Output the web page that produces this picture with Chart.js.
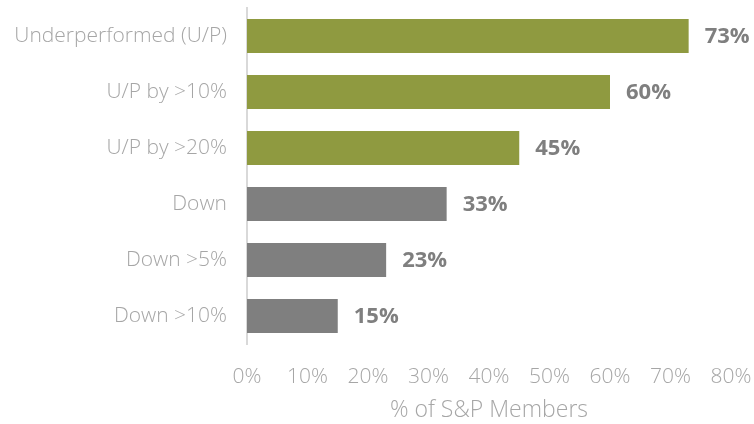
<!DOCTYPE html>
<html>
<head>
<meta charset="utf-8">
<script src="https://cdn.jsdelivr.net/npm/chart.js@4"></script>
<style>
  html, body { margin: 0; padding: 0; background: #fff; }
  #wrap { width: 754px; height: 424px; }
</style>
</head>
<body>
<div id="wrap"><canvas id="chart" width="754" height="424"></canvas></div>
<script>
// data
var categories = ['Underperformed (U/P)', 'U/P by >10%', 'U/P by >20%', 'Down', 'Down >5%', 'Down >10%'];
var shares = [73, 60, 45, 33, 23, 15];
var barColors = ['#8f9a40', '#8f9a40', '#8f9a40', '#7f7f7f', '#7f7f7f', '#7f7f7f'];
var xTicks = [0, 10, 20, 30, 40, 50, 60, 70, 80];
var xTitle = '% of S&P Members';

var fontFamily = '"Open Sans", "Noto Sans", sans-serif';

// simple value labels at the end of each bar
var endLabels = {
  id: 'endLabels',
  afterDatasetsDraw: function(chart) {
    var ctx = chart.ctx;
    var meta = chart.getDatasetMeta(0);
    ctx.save();
    ctx.font = 'bold 22px ' + fontFamily;
    ctx.fillStyle = '#7f7f7f';
    ctx.textAlign = 'left';
    ctx.textBaseline = 'middle';
    meta.data.forEach(function(bar, i) {
      ctx.fillText(shares[i] + '%', bar.x + 16, bar.y + 1);
    });
    ctx.restore();
  }
};

var ctx = document.getElementById('chart').getContext('2d');
var chart = new Chart(ctx, {
  type: 'bar',
  data: {
    labels: categories,
    datasets: [{
      data: shares,
      backgroundColor: barColors,
      borderWidth: 0,
      barPercentage: 1,
      categoryPercentage: 0.61
    }]
  },
  options: {
    indexAxis: 'y',
    responsive: false,
    animation: false,
    layout: { padding: { top: 8, right: 23, left: 0, bottom: 0 } },
    plugins: {
      legend: { display: false },
      tooltip: { enabled: false }
    },
    scales: {
      x: {
        min: 0,
        max: 80,
        afterBuildTicks: function(scale) {
          scale.ticks = xTicks.map(function(v) { return { value: v }; });
        },
        grid: { display: false, drawTicks: false },
        border: { display: false },
        ticks: {
          padding: 20,
          color: '#a6a6a6',
          font: { family: fontFamily, size: 21, weight: '300' },
          callback: function(v) { return v + '%'; }
        },
        title: {
          display: true,
          text: xTitle,
          color: '#a6a6a6',
          font: { family: fontFamily, size: 23, weight: '300' },
          padding: { top: 1, bottom: 0 }
        },
        afterFit: function(scale) {
          scale.height = 80;
          scale.paddingLeft = 0;
          scale.paddingRight = 0;
        }
      },
      y: {
        grid: { display: false, drawTicks: false },
        border: { display: true, color: '#d9d9d9', width: 2 },
        ticks: {
          padding: 20,
          color: '#a6a6a6',
          font: { family: fontFamily, size: 21, weight: '300' }
        },
        afterFit: function(scale) {
          scale.width = 247;
          scale.paddingTop = 0;
          scale.paddingBottom = 0;
        }
      }
    }
  },
  plugins: [endLabels]
});
</script>
</body>
</html>
